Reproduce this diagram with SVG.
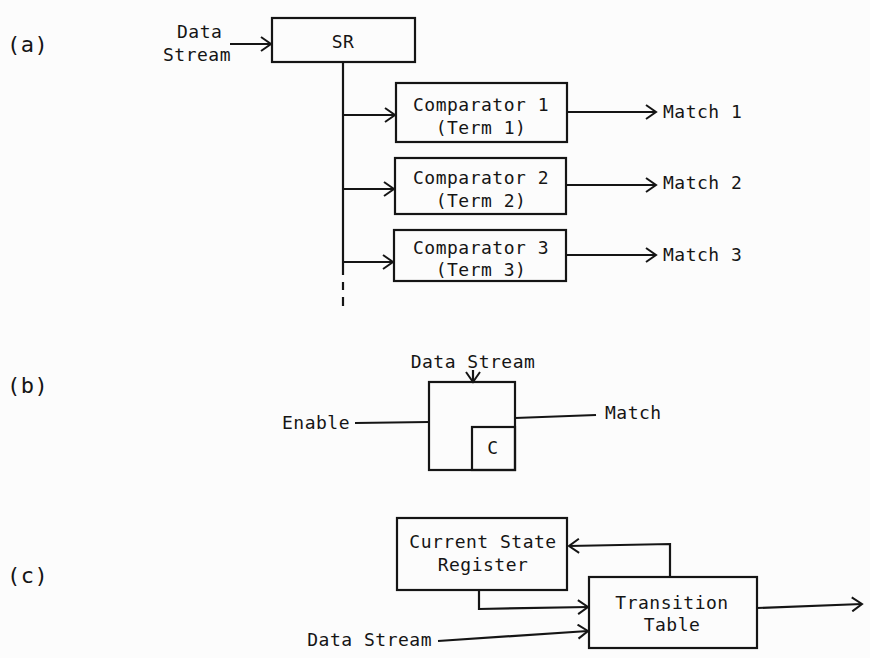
<svg xmlns="http://www.w3.org/2000/svg" width="870" height="658" viewBox="0 0 870 658">
<defs>
<marker id="ah" markerUnits="userSpaceOnUse" markerWidth="14" markerHeight="16" refX="12" refY="8" orient="auto">
<path d="M2,1 L12,8 L2,15" fill="none" stroke="#151515" stroke-width="2"/>
</marker>
</defs>
<style>
text{font-family:"DejaVu Sans Mono","Liberation Mono",monospace;font-size:18px;fill:#151515;letter-spacing:0.5px}
.lbl{font-size:22px}
.box{fill:none;stroke:#151515;stroke-width:2.2}
.ln{fill:none;stroke:#151515;stroke-width:2.2}
.ar{fill:none;stroke:#151515;stroke-width:2.2;marker-end:url(#ah)}
</style>
<rect width="870" height="658" fill="#fcfcfc"/>

<text class="lbl" x="7" y="52">(a)</text>
<text class="lbl" x="7" y="393">(b)</text>
<text class="lbl" x="7" y="583">(c)</text>

<g id="connectors">
<!-- (a) -->
<line class="ar" x1="230" y1="44" x2="271" y2="44"/>
<polyline class="ln" points="343,62 343,275"/>
<line class="ln" x1="343" y1="282" x2="343" y2="290"/>
<line class="ln" x1="343" y1="297" x2="343" y2="306"/>
<line class="ar" x1="343" y1="115" x2="395" y2="115"/>
<line class="ar" x1="343" y1="189" x2="394" y2="189"/>
<line class="ar" x1="343" y1="262" x2="393" y2="262"/>
<line class="ar" x1="567" y1="112" x2="656" y2="112"/>
<line class="ar" x1="566" y1="185" x2="656" y2="185"/>
<line class="ar" x1="566" y1="255" x2="656" y2="255"/>
<!-- (b) -->
<line class="ar" x1="473" y1="370" x2="473" y2="382"/>
<line class="ln" x1="355" y1="423" x2="429" y2="422"/>
<line class="ln" x1="515" y1="418" x2="596" y2="415"/>
<!-- (c) -->
<polyline class="ar" points="670,577 670,544 569,546"/>
<polyline class="ar" points="479,590 479,609 588,607"/>
<line class="ar" x1="438" y1="641" x2="588" y2="631"/>
<line class="ar" x1="757" y1="608" x2="862" y2="604"/>
</g>

<g id="data-stream-a">
<text x="177" y="38">Data</text>
<text x="163" y="61">Stream</text>
</g>

<g id="sr">
<rect class="box" x="272" y="18" width="143" height="44"/>
<text x="343" y="48" text-anchor="middle">SR</text>
</g>

<g id="comparator1">
<rect class="box" x="396" y="83" width="171" height="59"/>
<text x="481" y="111" text-anchor="middle">Comparator 1</text>
<text x="481" y="134" text-anchor="middle">(Term 1)</text>
</g>
<g id="comparator2">
<rect class="box" x="395" y="158" width="171" height="56"/>
<text x="481" y="184" text-anchor="middle">Comparator 2</text>
<text x="481" y="207" text-anchor="middle">(Term 2)</text>
</g>
<g id="comparator3">
<rect class="box" x="394" y="230" width="172" height="51"/>
<text x="481" y="254" text-anchor="middle">Comparator 3</text>
<text x="481" y="276" text-anchor="middle">(Term 3)</text>
</g>

<g id="match-a">
<text x="663" y="118">Match 1</text>
<text x="663" y="189">Match 2</text>
<text x="663" y="261">Match 3</text>
</g>

<g id="cell-b">
<text x="473" y="368" text-anchor="middle">Data Stream</text>
<rect class="box" x="429" y="382" width="86" height="88"/>
<text x="282" y="429">Enable</text>
<text x="605" y="419">Match</text>
</g>
<g id="c-box">
<rect class="box" x="472" y="427" width="43" height="43"/>
<text x="493" y="454" text-anchor="middle">C</text>
</g>

<g id="current-state-register">
<rect class="box" x="397" y="518" width="170" height="72"/>
<text x="483" y="548" text-anchor="middle">Current State</text>
<text x="483" y="571" text-anchor="middle">Register</text>
</g>
<g id="transition-table">
<rect class="box" x="589" y="577" width="168" height="71"/>
<text x="672" y="609" text-anchor="middle">Transition</text>
<text x="672" y="631" text-anchor="middle">Table</text>
</g>
<g id="data-stream-c">
<text x="432" y="646" text-anchor="end">Data Stream</text>
</g>
</svg>
